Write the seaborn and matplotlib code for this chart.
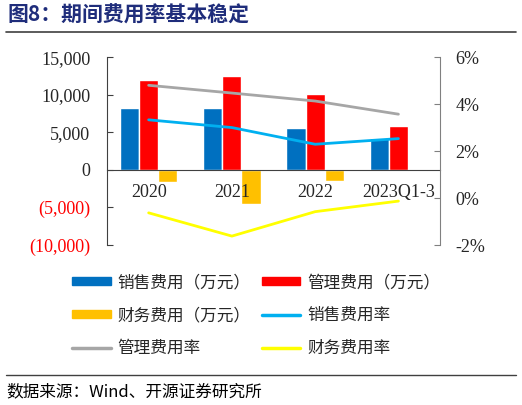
import matplotlib
matplotlib.use("Agg")
import matplotlib.pyplot as plt
import matplotlib.ticker as mticker
import numpy as np
import pandas as pd
import seaborn as sns

periods = ["2020", "2021", "2022", "2023Q1-3"]
sales_exp = [8270, 8270, 5530, 4300]
admin_exp = [11950, 12480, 10090, 5840]
fin_exp = [-1680, -4510, -1460, -200]
sales_rate = [3.33, 3.00, 2.29, 2.53]
admin_rate = [4.80, 4.47, 4.13, 3.57]
fin_rate = [-0.63, -1.62, -0.58, -0.13]

bar_names = ["销售费用（万元）", "管理费用（万元）", "财务费用（万元）"]
rate_names = ["销售费用率", "管理费用率", "财务费用率"]
bar_colors = ["#0070C0", "#FF0000", "#FFC000"]
line_colors = ["#00B0F0", "#A6A6A6", "#FFFF00"]

sns.set_style("white")
plt.rcParams["font.family"] = ["Liberation Serif", "Noto Sans CJK SC", "DejaVu Sans"]
cjk = ["Noto Sans CJK SC", "DejaVu Sans"]

df = pd.DataFrame({
    "period": periods * 3,
    "value": sales_exp + admin_exp + fin_exp,
    "item": [n for n in bar_names for _ in periods],
})

fig = plt.figure(figsize=(5.22, 4.05), dpi=100)
ax = fig.add_axes([0.205, 0.395, 0.638, 0.464])
sns.barplot(data=df, x="period", y="value", hue="item", palette=bar_colors,
            width=0.69, ax=ax, legend=False, saturation=1)
ax.set_axisbelow(False)

ax2 = ax.twinx()
xs = np.arange(len(periods))
for vals, c in zip([sales_rate, admin_rate, fin_rate], line_colors):
    sns.lineplot(x=xs, y=vals, color=c, lw=2, ax=ax2)

ax.set_xlim(-0.5, 3.5)
ax.set_ylim(-10000, 15000)
ax.set_yticks(np.arange(-10000, 15001, 5000))
ax2.set_ylim(-2, 6)
ax2.set_yticks(np.arange(-2, 7, 2))

def kfmt(v, pos):
    if v < 0:
        return "({:,.0f})".format(-v)
    return "{:,.0f}".format(v)

ax.yaxis.set_major_formatter(mticker.FuncFormatter(kfmt))
ax2.yaxis.set_major_formatter(mticker.FuncFormatter(lambda v, p: "{:.0f}%".format(v)))
ax.set_xlabel("")
ax.set_ylabel("")
ax2.set_ylabel("")

ax.tick_params(axis="y", direction="in", length=4, pad=12, labelsize=13, color="#404040")
ax2.tick_params(axis="y", direction="in", length=4, pad=11, labelsize=13, color="#808080")
for lab, v in zip(ax.get_yticklabels(), ax.get_yticks()):
    if v < 0:
        lab.set_color("red")

ax.spines["bottom"].set_position(("data", 0))
ax.set_xticks([0.5, 1.5, 2.5])
ax.set_xticklabels([])
ax.set_xticks(xs, minor=True)
ax.set_xticklabels(periods, minor=True, fontsize=13)
ax.tick_params(axis="x", which="major", direction="in", length=4)
ax.tick_params(axis="x", which="minor", length=0, pad=10)

for a in (ax, ax2):
    a.spines["top"].set_visible(False)
    a.spines["bottom"].set_visible(False)
ax.spines["bottom"].set_visible(True)
ax.spines["bottom"].set_color("#404040")
ax.spines["left"].set_color("#404040")
ax.spines["right"].set_visible(False)
ax2.spines["left"].set_visible(False)
ax2.spines["right"].set_color("#808080")

bars = [plt.Rectangle((0, 0), 1, 1, color=c) for c in bar_colors]
lines = [plt.Line2D([], [], color=c, lw=2.5) for c in line_colors]
handles = [bars[0], bars[2], lines[1], bars[1], lines[0], lines[2]]
labels = [bar_names[0], bar_names[2], rate_names[1], bar_names[1], rate_names[0], rate_names[2]]
fig.legend(handles, labels, ncol=2, loc="upper left", bbox_to_anchor=(0.11, 0.36),
           frameon=False, prop={"family": cjk, "size": 12}, handlelength=2.3,
           handleheight=0.4, labelspacing=0.95, columnspacing=0.7, handletextpad=0.4)

fig.text(0.015, 0.962, "图8：期间费用率基本稳定", fontsize=15, fontweight="bold",
         color="#1F2D7B", family=cjk, va="center")
fig.add_artist(plt.Line2D([0.011, 0.989], [0.922, 0.922], color="#404040", lw=1.2))
fig.add_artist(plt.Line2D([0.011, 0.989], [0.073, 0.073], color="#404040", lw=1))
fig.text(0.013, 0.033, "数据来源：Wind、开源证券研究所", fontsize=12, family=cjk,
         va="center", color="black")

fig.savefig("out.png", dpi=100)
